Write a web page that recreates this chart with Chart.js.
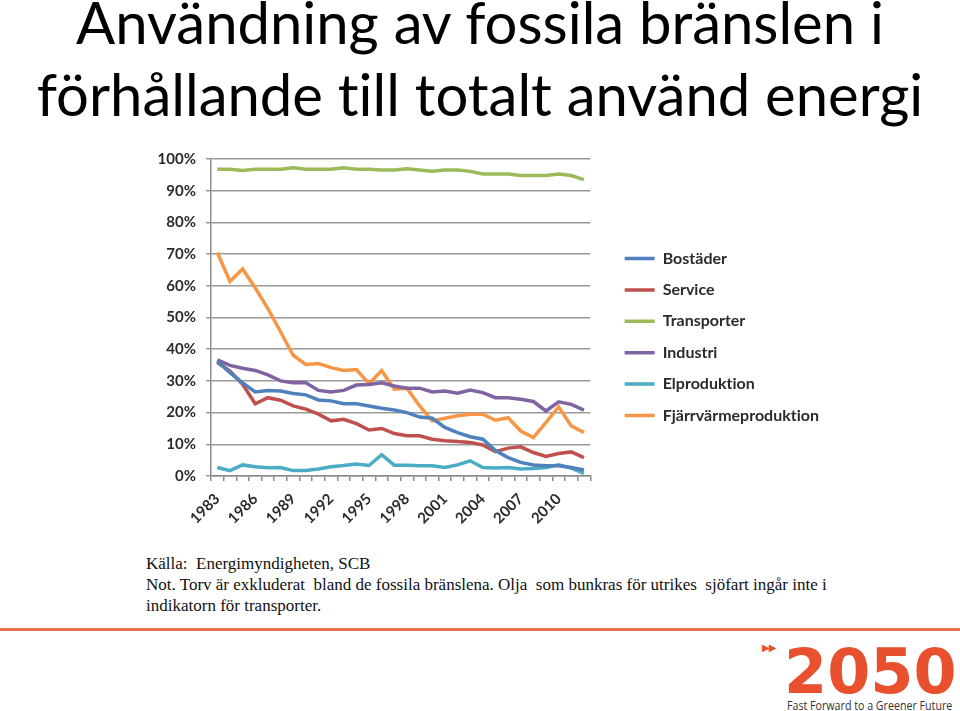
<!DOCTYPE html>
<html lang="sv">
<head>
<meta charset="utf-8">
<title>Användning av fossila bränslen</title>
<script src="https://cdn.jsdelivr.net/npm/chart.js@4.4.1/dist/chart.umd.min.js"></script>
<style>
    body { margin: 0; width: 960px; height: 711px; background: #fff; position: relative; overflow: hidden; font-family: Lato, sans-serif; font-variant-ligatures: none; }
    .titel { position: absolute; left: 0; top: -14px; width: 960px; text-align: center; font-size: 58px; line-height: 72px; color: #000; }
    /* canvasen går utanför sidan till vänster så att legenden får plats */
    .graf { position: absolute; left: -600px; top: 140px; width: 1430px; height: 392px; }
    .kalla { position: absolute; left: 146px; top: 553px; font-family: "Liberation Serif", serif; font-size: 17px; line-height: 21px; color: #111; }
    .linje { position: absolute; left: 0; top: 628px; width: 960px; height: 3px; background: #e76f4c; }
    .pilar { position: absolute; left: 762px; top: 642px; font-family: "DejaVu Sans", sans-serif; font-size: 10px; letter-spacing: -1px; color: #e9502e; }
    .logo { position: absolute; left: 784px; top: 641px; font-family: "DejaVu Sans", sans-serif; font-weight: bold; font-size: 62px; line-height: 62px; color: #e9502e; }
    .slogan { position: absolute; left: 787px; top: 697px; font-family: "Open Sans", sans-serif; font-size: 13px; line-height: 16px; color: #333; white-space: nowrap; transform: scaleX(0.82); transform-origin: left top; }
</style>
</head>
<body>
<div class="titel">Användning av fossila bränslen i<br>förhållande till totalt använd energi</div>
<div class="graf"><canvas id="grafico-fossila"></canvas></div>
<div class="kalla">Källa:&nbsp; Energimyndigheten, SCB<br>Not. Torv är exkluderat&nbsp; bland de fossila bränslena. Olja&nbsp; som bunkras för utrikes&nbsp; sjöfart ingår inte i<br>indikatorn för transporter.</div>
<div class="linje"></div>
<div class="pilar">▶▶</div>
<div class="logo">2050</div>
<div class="slogan">Fast Forward to a Greener Future</div>
<script>
const ar = ['1983', '1984', '1985', '1986', '1987', '1988', '1989', '1990', '1991', '1992',
    '1993', '1994', '1995', '1996', '1997', '1998', '1999', '2000', '2001', '2002',
    '2003', '2004', '2005', '2006', '2007', '2008', '2009', '2010', '2011', '2012'];

// andel fossila bränslen, procent
const bostader = [36.3, 32.6, 29.4, 26.5, 27.0, 26.8, 26.0, 25.6, 24.0, 23.7, 22.8, 22.8, 22.1, 21.4, 20.8,
    20.0, 18.6, 18.2, 15.3, 13.7, 12.4, 11.6, 8.0, 5.8, 4.3, 3.5, 3.2, 3.2, 2.7, 1.9];
const service = [35.8, 33.1, 28.9, 22.8, 24.7, 23.9, 22.1, 21.1, 19.5, 17.4, 17.9, 16.5, 14.5, 15.0, 13.4,
    12.7, 12.7, 11.6, 11.1, 10.9, 10.6, 9.8, 7.7, 8.8, 9.2, 7.4, 6.2, 7.1, 7.6, 5.8];
const transporter = [96.8, 96.8, 96.4, 96.8, 96.8, 96.8, 97.2, 96.8, 96.8, 96.8, 97.2, 96.8, 96.8, 96.5, 96.5,
    96.9, 96.5, 96.1, 96.5, 96.5, 96.1, 95.3, 95.3, 95.3, 94.8, 94.8, 94.8, 95.3, 94.8, 93.5];
const industri = [36.6, 34.9, 34.0, 33.3, 31.9, 30.0, 29.4, 29.4, 27.0, 26.5, 27.0, 28.7, 28.9, 29.4, 28.4,
    27.7, 27.7, 26.5, 26.8, 26.1, 27.1, 26.3, 24.7, 24.7, 24.2, 23.5, 20.5, 23.4, 22.6, 20.8];
const elproduktion = [2.7, 1.7, 3.5, 2.9, 2.6, 2.7, 1.7, 1.7, 2.2, 2.9, 3.3, 3.8, 3.3, 6.7, 3.4,
    3.4, 3.2, 3.2, 2.7, 3.5, 4.8, 2.7, 2.5, 2.7, 2.2, 2.4, 2.7, 3.5, 2.5, 0.8];
const fjarrvarme = [70.5, 61.4, 65.3, 59.3, 52.8, 45.5, 38.1, 35.2, 35.5, 34.2, 33.3, 33.6, 29.1, 33.3, 27.4,
    27.7, 22.1, 17.4, 18.2, 19.0, 19.5, 19.5, 17.6, 18.4, 14.2, 12.1, 16.9, 21.8, 15.8, 13.7];

const serier = [
    { label: 'Bostäder', data: bostader, farg: '#4f81bd' },
    { label: 'Service', data: service, farg: '#c0504d' },
    { label: 'Transporter', data: transporter, farg: '#9bbb59' },
    { label: 'Industri', data: industri, farg: '#8064a2' },
    { label: 'Elproduktion', data: elproduktion, farg: '#4bacc6' },
    { label: 'Fjärrvärmeproduktion', data: fjarrvarme, farg: '#f79646' }
];

const axelFarg = '#8c8c8c';
const textFarg = '#2b2b2b';

// utan ligaturer ("ti") som i originalet
const utanLigaturer = {
    id: 'utanLigaturer',
    beforeDraw: chart => { chart.ctx.textRendering = 'optimizeSpeed'; }
};

new Chart(document.getElementById('grafico-fossila'), {
    type: 'line',
    data: {
        labels: ar,
        datasets: serier.map(s => ({
            label: s.label,
            data: s.data,
            borderColor: s.farg,
            backgroundColor: s.farg,
            borderWidth: 3.5,
            pointRadius: 0,
            tension: 0,
            fill: false
        }))
    },
    plugins: [utanLigaturer],
    options: {
        responsive: true,
        maintainAspectRatio: false,
        animation: false,
        layout: { padding: { top: 4, bottom: 2, left: 0, right: 1 } },
        plugins: {
            tooltip: { enabled: false },
            legend: {
                position: 'right',
                labels: {
                    usePointStyle: true,
                    pointStyle: 'line',
                    pointStyleWidth: 30,
                    padding: 15.4,
                    color: textFarg,
                    font: { family: 'Lato', size: 16, weight: 'bold' }
                }
            }
        },
        scales: {
            x: {
                offset: true,
                grid: { offset: true, drawOnChartArea: false, drawTicks: true, tickLength: 5, color: axelFarg, lineWidth: 1.5 },
                border: { color: axelFarg, width: 1.5 },
                ticks: {
                    autoSkip: false,
                    minRotation: 45,
                    maxRotation: 45,
                    padding: 9,
                    color: textFarg,
                    font: { family: 'Lato', size: 15, weight: 'bold' },
                    callback: (valor, indice) => indice % 3 === 0 ? ar[indice] : ''
                },
                afterFit: escala => { escala.height = 54; }
            },
            y: {
                min: 0,
                max: 100,
                grid: { color: '#9a9a9a', lineWidth: 1.5, tickLength: 5 },
                border: { color: axelFarg, width: 1.5 },
                ticks: {
                    stepSize: 10,
                    padding: 10,
                    color: textFarg,
                    font: { family: 'Lato', size: 15, weight: 'bold' },
                    callback: valor => valor + '%'
                },
                afterFit: escala => { escala.width = 811; }
            },
            marg: {
                type: 'linear',
                position: 'right',
                grid: { display: false },
                border: { display: false },
                ticks: { display: false },
                afterFit: escala => { escala.width = 19; }
            }
        }
    }
});
</script>
</body>
</html>
